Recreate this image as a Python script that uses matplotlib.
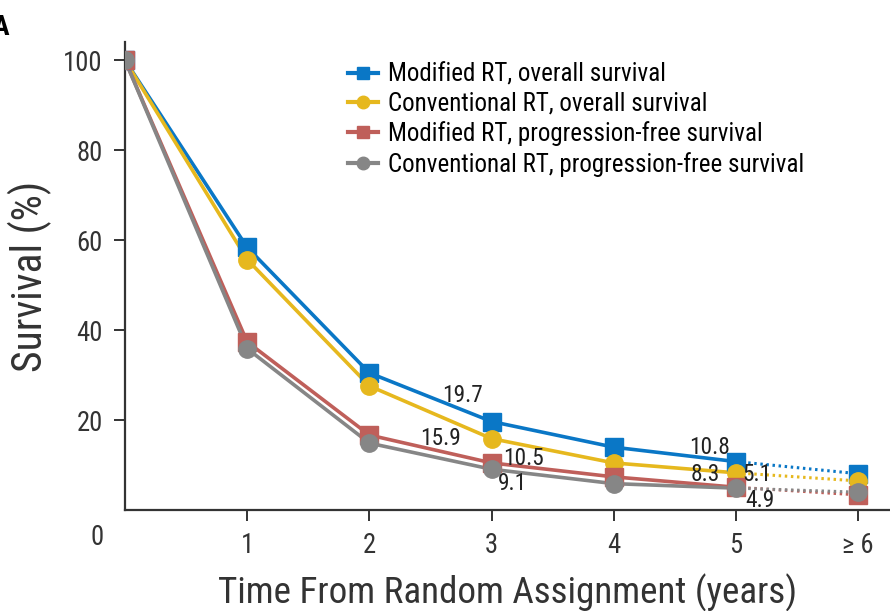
import numpy as np
import matplotlib
matplotlib.use("Agg")
import matplotlib.pyplot as plt
from matplotlib import font_manager

# prefer a narrow sans if one is installed
installed = {f.name for f in font_manager.fontManager.ttflist}
narrow = [f for f in ["Liberation Sans Narrow", "DejaVu Sans Condensed", "Roboto Condensed"]
          if f in installed]
if narrow:
    plt.rcParams['font.family'] = [narrow[0], 'DejaVu Sans']
    fs = 1.2
else:
    plt.rcParams['font.family'] = ['DejaVu Sans']
    fs = 0.95

years = [0, 1, 2, 3, 4, 5, 6]
tick_labels = ["1", "2", "3", "4", "5", "\u2265 6"]

mod_os = [100, 58.4, 30.5, 19.7, 14.0, 10.8, 8.1]
conv_os = [100, 55.7, 27.6, 15.9, 10.5, 8.3, 6.5]
mod_pfs = [100, 37.4, 16.7, 10.5, 7.4, 5.1, 3.4]
conv_pfs = [100, 35.9, 14.9, 9.1, 5.9, 4.9, 4.0]

names = ["Modified RT, overall survival",
         "Conventional RT, overall survival",
         "Modified RT, progression-free survival",
         "Conventional RT, progression-free survival"]
colors = ["#0a77c6", "#e6b81e", "#bf5f5a", "#868686"]
markers = ["s", "o", "s", "o"]

# (series index, year, text offset in points)
labels = [(0, 3, (-21, 19)), (1, 3, (-37, 0)), (2, 3, (23, 3)), (3, 3, (15, -10)),
          (0, 5, (-19, 10)), (1, 5, (-22, -1)), (2, 5, (15, 9)), (3, 5, (17, -9))]

fig = plt.figure(figsize=(8.9, 6.11), dpi=100)
ax = fig.add_axes([0.1404, 0.165, 0.8596, 0.766])

series = [mod_os, conv_os, mod_pfs, conv_pfs]
handles = []
for s, c, m, n in zip(series, colors, markers, names):
    # solid through year 5, dotted to the open-ended last point
    ax.plot(years[:6], s[:6], color=c, lw=2.6, zorder=3)
    ax.plot(years[5:], s[5:], color=c, lw=2.2, ls=(0, (0.8, 1.2)), zorder=2)
    ax.plot(years, s, ls="none", marker=m, ms=12.5, color=c, zorder=4)
    h, = ax.plot([], [], color=c, lw=3, marker=m, ms=9, label=n)
    handles.append(h)

for i, yr, off in labels:
    val = series[i][yr]
    ax.annotate(f"{val:.1f}", xy=(yr, val), xytext=off, textcoords="offset points",
                ha="center", va="center", fontsize=14 * fs, color="#222222", zorder=5)

ax.set_xlim(0, 6.26)
ax.set_ylim(0, 104)
ax.set_xticks(years[1:])
ax.set_xticklabels(tick_labels)
ax.set_yticks([20, 40, 60, 80, 100])
ax.annotate("0", xy=(0, 0), xytext=(-20, -20), textcoords="offset points",
            ha="center", va="center", fontsize=16 * fs, color="#333333", annotation_clip=False)

for side in ["top", "right"]:
    ax.spines[side].set_visible(False)
for side in ["left", "bottom"]:
    ax.spines[side].set_color("#333333")
    ax.spines[side].set_linewidth(1.6)
ax.tick_params(axis="both", direction="out", length=8, width=1.4, colors="#333333",
               labelsize=16 * fs, pad=8)

ax.set_xlabel("Time From Random Assignment (years)", fontsize=22.3 * fs, color="#333333",
              labelpad=10)
ax.set_ylabel("Survival (%)", fontsize=25 * fs, color="#333333", labelpad=8)

ax.legend(handles=handles, loc="upper left", bbox_to_anchor=(0.262, 1.005), frameon=False,
          fontsize=15 * fs, handlelength=1.2, handletextpad=0.4, labelspacing=0.22)

fig.text(-0.008, 0.955, "A", fontsize=20, fontweight="bold", va="center")

fig.savefig("out.png", dpi=100)
